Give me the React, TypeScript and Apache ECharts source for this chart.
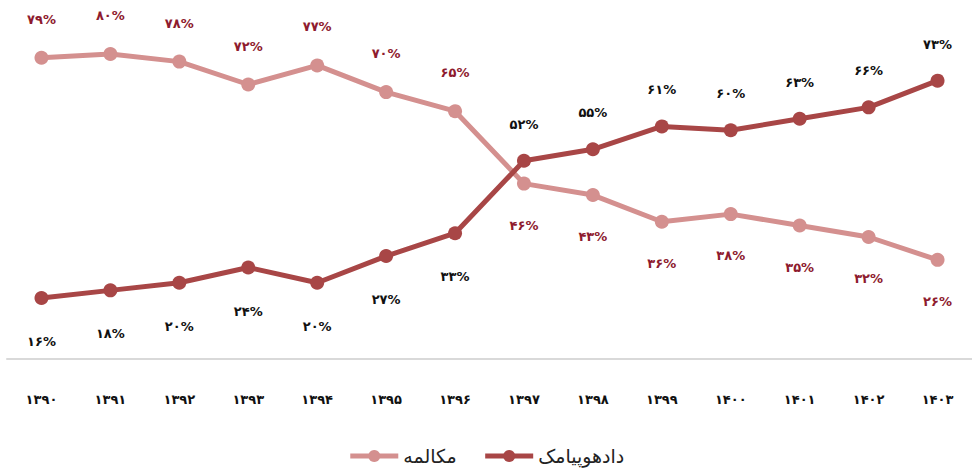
import React, { useEffect, useRef } from "react";
import * as echarts from "echarts";

const years = ["1390", "1391", "1392", "1393", "1394", "1395", "1396", "1397", "1398", "1399", "1400", "1401", "1402", "1403"];
const callValues = [79, 80, 78, 72, 77, 70, 65, 46, 43, 36, 38, 35, 32, 26];
const dataValues = [16, 18, 20, 24, 20, 27, 33, 52, 55, 61, 60, 63, 66, 73];
const callName = "مکالمه";
const dataName = "دادهوپیامک";
const crossIndex = 7;

const fa = (s: string | number) => String(s).replace(/[0-9]/g, (d) => "۰۱۲۳۴۵۶۷۸۹"[Number(d)]);

export default function App() {
  const ref = useRef<HTMLDivElement>(null);
  useEffect(() => {
    if (!ref.current) return;
    const chart = echarts.init(ref.current, null, { renderer: "svg" });
    const font = "DejaVu Sans";
    const callData = callValues.map((v, i) => ({
      value: v,
      label: i < crossIndex ? { position: "top", distance: 25 } : { position: "bottom", distance: 28 },
    }));
    const dataData = dataValues.map((v, i) => ({
      value: v,
      label: i < crossIndex ? { position: "bottom", distance: 30 } : { position: "top", distance: 23 },
    }));
    chart.setOption({
      animation: false,
      grid: { left: 7, width: 975, top: 54, height: 305 },
      legend: {
        data: [callName, dataName],
        left: "center",
        top: 440,
        itemWidth: 48,
        itemHeight: 15,
        itemGap: 26,
        lineStyle: { width: 5 },
        textStyle: { fontFamily: font, fontSize: 19, lineHeight: 22, color: "#222" },
      },
      xAxis: {
        type: "category",
        data: years,
        boundaryGap: true,
        axisLine: { lineStyle: { color: "#d9d9d9", width: 2 } },
        axisTick: { show: false },
        axisLabel: {
          formatter: (v: string) => fa(v),
          fontFamily: font,
          fontWeight: "bold",
          fontSize: 13,
          color: "#111",
          margin: 34,
        },
      },
      yAxis: { type: "value", min: 0, max: 80, show: false, splitLine: { show: false } },
      series: [
        {
          name: callName,
          type: "line",
          data: callData,
          symbol: "circle",
          symbolSize: 14,
          lineStyle: { color: "#D4908F", width: 5 },
          itemStyle: { color: "#D4908F" },
          label: {
            show: true,
            formatter: (p: any) => fa(p.value) + "%",
            fontFamily: font,
            fontWeight: "bold",
            fontSize: 13,
            color: "#8E1B2E",
          },
        },
        {
          name: dataName,
          type: "line",
          data: dataData,
          symbol: "circle",
          symbolSize: 14,
          lineStyle: { color: "#A84646", width: 5 },
          itemStyle: { color: "#A84646" },
          label: {
            show: true,
            formatter: (p: any) => fa(p.value) + "%",
            fontFamily: font,
            fontWeight: "bold",
            fontSize: 13,
            color: "#111",
          },
        },
      ],
    });
    return () => chart.dispose();
  }, []);
  return <div ref={ref} style={{ width: 972, height: 468, position: "absolute", left: 0, top: 0 }} />;
}
